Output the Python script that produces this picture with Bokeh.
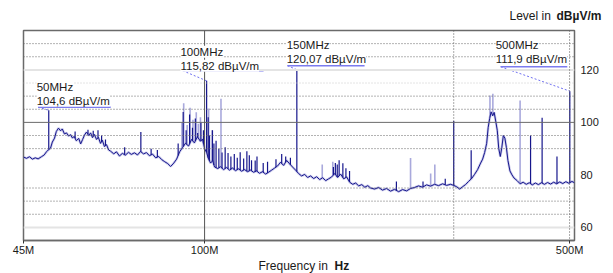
import numpy as np
from bokeh.plotting import figure
from bokeh.layouts import column
from bokeh.models import Range1d, Span, Label, FixedTicker, CustomJSTickFormatter
from bokeh.embed import file_html
from bokeh.resources import INLINE

# ---------------- data ----------------
trace_mhz = [45.0, 45.6, 46.2, 46.8, 47.4, 48.0, 48.7, 49.3, 49.8, 50.2, 50.7, 51.1, 51.6, 52.0, 52.5,
             53.0, 53.4, 53.9, 54.4, 54.9, 55.4, 55.8, 56.3, 56.8, 57.4, 57.9, 58.4, 58.9, 59.4, 60.0,
             60.5, 61.0, 61.5, 62.1, 62.6, 63.2, 63.7, 64.3, 64.9, 65.5, 66.1, 67.0, 67.8, 68.7, 69.6,
             70.5, 71.5, 72.4, 73.4, 74.4, 75.4, 76.4, 77.4, 78.4, 79.5, 80.6, 81.7, 82.8, 83.9, 85.0,
             86.1, 87.3, 88.4, 89.6, 90.8, 91.9, 93.2, 94.4, 95.6, 96.9, 98.2, 99.1, 100.0, 100.9, 101.8,
             102.7, 103.6, 104.5, 106.0, 107.3, 108.7, 110.2, 111.6, 113.1, 114.6, 116.2, 117.7, 119.3, 120.9,
             122.5, 124.1, 125.8, 127.4, 129.1, 130.9, 132.6, 134.4, 136.2, 138.0, 139.8, 141.7, 143.6, 145.5,
             147.4, 149.4, 151.4, 153.4, 155.5, 157.5, 159.6, 161.8, 163.9, 166.1, 168.3, 170.6, 172.8, 175.1,
             177.5, 179.8, 182.2, 184.7, 187.1, 189.6, 192.2, 194.7, 197.3, 200.0, 202.7, 205.4, 207.9, 211.6,
             215.4, 219.2, 223.1, 227.1, 231.1, 235.3, 239.4, 243.7, 248.0, 252.4, 256.9, 261.5, 266.2, 270.9,
             275.7, 280.6, 285.6, 290.7, 295.9, 299.9, 303.9, 307.9, 312.0, 316.1, 320.3, 324.6, 328.9, 333.3,
             337.8, 340.8, 343.8, 346.9, 349.2, 351.5, 353.8, 356.2, 358.6, 361.0, 363.5, 365.9, 368.4, 370.9,
             373.4, 375.9, 378.4, 381.0, 384.4, 387.9, 391.4, 396.8, 402.1, 407.5, 413.0, 418.6, 424.3, 430.0,
             435.8, 441.7, 447.7, 453.7, 459.9, 466.1, 472.4, 478.8, 485.3, 491.9, 498.5, 505.3, 511.0]
trace_db = [86.8, 86.3, 86.9, 86.0, 86.5, 86.1, 86.9, 87.6, 88.8, 89.5, 90.2, 92.5, 94.0, 96.5, 97.8,
            96.8, 97.5, 95.6, 96.0, 94.8, 95.3, 94.1, 94.6, 93.0, 93.9, 91.8, 93.5, 95.2, 96.3, 95.0,
            96.0, 94.2, 95.4, 93.5, 94.3, 92.0, 93.2, 90.8, 91.5, 89.5, 89.0, 88.0, 88.8, 87.2, 88.2,
            87.5, 88.6, 87.8, 88.4, 87.6, 88.9, 88.0, 88.5, 87.3, 87.9, 86.5, 87.0, 85.8, 85.0, 84.3,
            83.2, 84.5, 86.0, 88.8, 90.5, 92.0, 91.0, 93.5, 92.2, 94.5, 92.8, 93.6, 90.0, 88.5, 86.0,
            84.5, 85.4, 83.0, 82.4, 83.1, 82.0, 82.8, 81.8, 82.6, 81.6, 82.3, 81.4, 82.0, 81.2,
            81.8, 81.0, 81.5, 80.6, 81.2, 80.3, 81.0, 81.8, 82.6, 83.4, 84.8, 83.6, 85.5, 84.2,
            83.0, 81.8, 80.5, 79.6, 80.2, 79.0, 79.6, 78.6, 79.3, 78.2, 78.9, 77.8, 78.5, 79.2,
            80.5, 79.0, 80.3, 78.5, 79.2, 77.2, 76.4, 76.9, 75.8, 76.3, 75.3, 75.9, 75.0, 74.6,
            75.2, 74.2, 74.8, 73.8, 74.5, 73.6, 74.4, 73.9, 74.8, 75.2, 75.8, 75.3, 76.2, 75.7,
            76.4, 75.9, 76.6, 76.0, 76.4, 76.0, 75.5, 74.6, 75.5, 76.3, 77.5, 78.6, 80.2, 82.0,
            84.5, 86.0, 88.5, 92.0, 98.0, 101.5, 104.0, 102.5, 103.8, 100.5, 97.0, 90.0, 87.0, 90.5,
            95.0, 94.0, 90.5, 85.5, 81.5, 80.0, 78.8, 77.8, 76.6, 77.2, 76.4, 77.0, 76.2, 76.9,
            76.3, 77.0, 76.4, 77.1, 76.5, 77.2, 76.6, 77.3, 76.7, 77.4, 76.8, 77.5, 77.0]

spike_mhz = [50.3, 56.5, 59.8, 61.2, 62.5, 63.5, 64.6, 70.3, 75.5, 79.0, 81.2, 89.0, 91.0, 92.2, 93.6,
             94.8, 96.0, 97.0, 98.4, 99.5, 100.9, 101.6, 102.2, 103.5, 104.2, 105.2, 106.5, 108.0, 109.5,
             110.9, 112.3, 114.0, 115.5, 117.0, 118.8, 120.5, 121.8, 123.0, 125.0, 126.0, 129.5, 132.0,
             137.0, 140.5, 143.0, 146.0, 150.2, 176.5, 178.0, 179.5, 181.0, 184.0, 186.5, 189.5, 233.0,
             262.0, 289.0, 300.0, 324.0, 421.0, 443.0, 473.0, 500.5]
spike_db = [104.6, 96.5, 97.2, 96.8, 97.0, 95.0, 93.5, 90.5, 96.3, 90.0, 89.5, 92.0, 104.0, 97.0, 103.0,
            98.0, 101.5, 96.0, 100.0, 97.0, 115.82, 102.0, 95.0, 97.0, 92.0, 93.0, 90.0, 88.5, 90.5,
            88.3, 87.0, 88.0, 86.5, 88.6, 86.2, 89.0, 87.5, 85.6, 85.5, 87.0, 84.5, 85.0,
            86.0, 88.0, 87.0, 86.5, 120.07, 83.0, 84.5, 84.0, 85.6, 84.4, 82.5, 81.5, 77.5,
            77.5, 78.5, 100.5, 89.4, 95.0, 101.8, 87.0, 111.9]

light_spike_mhz = [90.5, 91.2, 92.6, 93.8, 95.0, 96.4, 97.3, 98.2, 101.8, 103.5, 107.5, 168.0, 176.0,
                   248.0, 271.0, 276.0, 352.0, 356.5, 402.0]
light_spike_db = [100.0, 107.3, 99.0, 105.6, 101.0, 103.9, 99.5, 102.0, 105.3, 97.0, 109.0, 84.0, 85.0,
                  86.4, 80.5, 84.0, 110.2, 110.9, 108.3]

marker_mhz = [50.3, 100.9, 150.2, 500.5]
marker_db = [104.6, 115.82, 120.07, 111.9]
marker_name = ["50MHz", "100MHz", "150MHz", "500MHz"]
marker_value = ["104,6 dBµV/m", "115,82 dBµV/m", "120,07 dBµV/m", "111,9 dBµV/m"]

x_ticks = [45, 100, 500]
y_ticks = [60, 80, 100, 120]

# ---------------- layout constants ----------------
box_x = [47.7, 89.9, 143.6, 361.0]
name_y = [113.4, 126.9, 129.5, 129.5]
value_y = [108.3, 121.6, 124.2, 124.2]
uline_y = [105.8, 119.7, 121.6, 121.2]
uline_x0 = [48.0, 90.8, 144.1, 369.0]
uline_x1 = [66.1, 129.7, 202.5, 495.0]

FONT = "Liberation Sans"
TXT = "#1a1a1a"


def text_strip(h):
    # frame starts at page x = 23 (same left border as the main plot);
    # x range chosen so that data x equals page x
    f = figure(frame_width=582, frame_height=h, x_range=Range1d(23, 605), y_range=Range1d(h, 0),
               x_axis_location=None, y_axis_location=None, output_backend="svg",
               toolbar_location=None, title=None,
               min_border_left=23, min_border_right=0, min_border_top=0, min_border_bottom=0)
    f.outline_line_color = None
    f.xgrid.visible = False
    f.ygrid.visible = False
    return f


# top strip: y-axis title
top = text_strip(28)
top.add_layout(Label(x=509, y=15, text="Level in", text_font=FONT, text_font_size="12px",
                     text_baseline="middle", text_align="left", text_color=TXT))
top.add_layout(Label(x=556, y=15, text="dBµV/m", text_font=FONT, text_font_size="12px",
                     text_font_style="bold", text_baseline="middle", text_align="left", text_color=TXT))

# main plot
p = figure(frame_width=551, frame_height=210, x_axis_type="log", y_axis_location="right",
           x_range=Range1d(45, 511), y_range=Range1d(55, 135),
           output_backend="svg", toolbar_location=None,
           min_border_left=23, min_border_right=31, min_border_top=2, min_border_bottom=16)
p.background_fill_color = "white"
p.border_fill_color = "white"
p.outline_line_color = "#6a6a6a"
p.outline_line_width = 1.5
p.xgrid.visible = False
p.ygrid.visible = False

p.xaxis.ticker = FixedTicker(ticks=x_ticks, minor_ticks=[])
p.xaxis.formatter = CustomJSTickFormatter(code="return tick.toFixed(0) + 'M';")
p.xaxis.axis_line_color = "#6a6a6a"
p.xaxis.axis_line_width = 1.5
p.xaxis.major_tick_out = 3
p.xaxis.major_tick_in = 0
p.xaxis.major_tick_line_color = "#333333"
p.xaxis.minor_tick_line_color = None
p.xaxis.major_label_standoff = 0
p.xaxis.major_label_text_font = FONT
p.xaxis.major_label_text_font_size = "11px"
p.xaxis.major_label_text_color = TXT

p.yaxis.ticker = FixedTicker(ticks=y_ticks, minor_ticks=[])
p.yaxis.axis_line_color = None
p.yaxis.major_tick_line_color = None
p.yaxis.minor_tick_line_color = None
p.yaxis.major_tick_out = 0
p.yaxis.major_tick_in = 0
p.yaxis.major_label_standoff = 6
p.yaxis.major_label_text_font = FONT
p.yaxis.major_label_text_font_size = "11px"
p.yaxis.major_label_text_color = TXT

# horizontal grid
for lv in [130, 125, 110, 105, 95, 90, 75, 70, 65]:
    p.add_layout(Span(location=lv, dimension="width", line_color="#666666", line_dash="1 2", line_width=1))
for lv in [115]:
    p.add_layout(Span(location=lv, dimension="width", line_color="#c8c8c8", line_dash="1 2", line_width=1))
for lv in [120, 60]:
    p.add_layout(Span(location=lv, dimension="width", line_color="#e4e4e4", line_width=2))
for lv in [100]:
    p.add_layout(Span(location=lv, dimension="width", line_color="#6a6a6a", line_width=1))
# vertical grid
p.add_layout(Span(location=100, dimension="height", line_color="#555555", line_width=1))
for fv in [300, 500]:
    p.add_layout(Span(location=fv, dimension="height", line_color="#555555", line_dash="1 2", line_width=1))

# trace
log_t = np.log10(trace_mhz)
p.line(trace_mhz, trace_db, line_color="#8c8cd2", line_width=2.5, line_alpha=0.45)

lb = np.interp(np.log10(light_spike_mhz), log_t, trace_db)
p.segment(x0=light_spike_mhz, y0=lb, x1=light_spike_mhz, y1=light_spike_db,
          line_color="#9a9ad6", line_width=1.6, line_alpha=0.85)

p.line(trace_mhz, trace_db, line_color="#16168c", line_width=1)

sb = np.interp(np.log10(spike_mhz), log_t, trace_db)
p.segment(x0=spike_mhz, y0=sb, x1=spike_mhz, y1=spike_db, line_color="#16168c", line_width=1.2)

# markers
p.segment(x0=uline_x0, y0=uline_y, x1=marker_mhz, y1=marker_db,
          line_color="#6f6ff0", line_width=1, line_dash="2 2")
for i in range(len(marker_mhz)):
    p.add_layout(Label(x=box_x[i], y=name_y[i], text=marker_name[i], text_font=FONT,
                       text_font_size="11.5px", text_baseline="middle", text_align="left",
                       text_color=TXT, background_fill_color="white"))
    p.add_layout(Label(x=box_x[i], y=value_y[i], text=marker_value[i], text_font=FONT,
                       text_font_size="11.5px", text_baseline="middle", text_align="left",
                       text_color=TXT, background_fill_color="white"))
p.segment(x0=uline_x0, y0=uline_y, x1=uline_x1, y1=uline_y, line_color="#7b7bef", line_width=1.5)

# bottom strip: x-axis title
bottom = text_strip(17)
bottom.add_layout(Label(x=258, y=7, text="Frequency in", text_font=FONT, text_font_size="12px",
                        text_baseline="middle", text_align="left", text_color=TXT))
bottom.add_layout(Label(x=334, y=7, text="Hz", text_font=FONT, text_font_size="12px",
                        text_font_style="bold", text_baseline="middle", text_align="left", text_color=TXT))

layout = column(top, p, bottom, spacing=0)
open("out.html", "w").write(file_html(layout, INLINE))
